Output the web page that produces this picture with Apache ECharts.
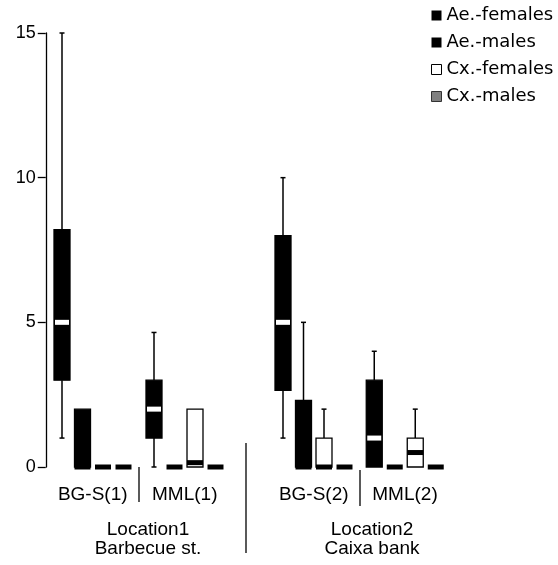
<!DOCTYPE html>
<html>
<head>
<meta charset="utf-8">
<script src="https://cdn.jsdelivr.net/npm/echarts@6/dist/echarts.min.js"></script>
<style>
html,body{margin:0;padding:0;background:#fff;}
#chart{width:558px;height:565px;}
</style>
</head>
<body>
<div id="chart"></div>
<script>
// ---- data (box statistics: [min, Q1, median, Q3, max]) ----
const groups = ['BG-S(1)', 'MML(1)', 'BG-S(2)', 'MML(2)'];
const seriesNames = ['Ae.-females', 'Ae.-males', 'Cx.-females', 'Cx.-males'];
const aeFemales = [[1, 3, 5, 8.2, 15], [0, 1, 2, 3, 4.65], [1, 2.65, 5, 8, 10], [0, 0, 1, 3, 4]];
const aeMales   = [[0, 0, 0, 2, 2], [0, 0, 0, 0, 0], [0, 0, 0, 2.3, 5], [0, 0, 0, 0, 0]];
const cxFemales = [[0, 0, 0, 0, 0], [0, 0, 0.15, 2, 2], [0, 0, 0, 1, 2], [0, 0, 0.5, 1, 2]];
const cxMales   = [[0, 0, 0, 0, 0], [0, 0, 0, 0, 0], [0, 0, 0, 0, 0], [0, 0, 0, 0, 0]];
const yMin = 0, yMax = 15, yInterval = 5;
const locationLabels = ['Location1\nBarbecue st.', 'Location2\nCaixa bank'];

// ---- styling ----
const seriesData = [aeFemales, aeMales, cxFemales, cxMales];
const fills = ['#000', '#000', '#fff', '#808080'];
const dark = [true, true, false, true];
const gridLefts = [51.75, 143.75, 272.75, 364];
const gridWidth = 82;

function makeRender(typeIdx) {
  return function (params, api) {
    const xi = api.value(0);
    const mn = api.value(1), q1 = api.value(2), md = api.value(3), q3 = api.value(4), mx = api.value(5);
    const band = api.size([1, 0])[0];
    const w = band * 0.78;
    const cx = api.coord([xi, 0])[0];
    const Y = v => api.coord([xi, v])[1];
    const children = [];
    const lineStyle = { stroke: '#000', lineWidth: 1.5 };
    if (mx > q3) {
      children.push({ type: 'line', shape: { x1: cx, y1: Y(q3), x2: cx, y2: Y(mx) }, style: lineStyle });
      children.push({ type: 'line', shape: { x1: cx - 2.5, y1: Y(mx), x2: cx + 2.5, y2: Y(mx) }, style: lineStyle });
    }
    if (mn < q1) {
      children.push({ type: 'line', shape: { x1: cx, y1: Y(q1), x2: cx, y2: Y(mn) }, style: lineStyle });
      children.push({ type: 'line', shape: { x1: cx - 2.5, y1: Y(mn), x2: cx + 2.5, y2: Y(mn) }, style: lineStyle });
    }
    if (q3 > q1) {
      children.push({
        type: 'rect',
        shape: { x: cx - w / 2, y: Y(q3), width: w, height: Y(q1) - Y(q3) },
        style: { fill: fills[typeIdx], stroke: '#000', lineWidth: 1.3 }
      });
    }
    const inside = md > q1 && md < q3;
    const medColor = (dark[typeIdx] && inside) ? '#fff' : '#000';
    const mw = (dark[typeIdx] && inside) ? w - 2 : w;
    children.push({
      type: 'rect',
      shape: { x: cx - mw / 2, y: Y(md) - 2.5, width: mw, height: 5 },
      style: { fill: medColor }
    });
    return { type: 'group', children: children };
  };
}

const grids = [], xAxes = [], yAxes = [], series = [];
groups.forEach((g, gi) => {
  grids.push({ left: gridLefts[gi], width: gridWidth, top: 33, bottom: 98 });
  xAxes.push({
    type: 'category', gridIndex: gi, data: seriesNames,
    axisLine: { show: false }, axisTick: { show: false }, axisLabel: { show: false }, splitLine: { show: false },
    name: g, nameLocation: 'middle', nameGap: 18,
    nameTextStyle: { fontFamily: 'Liberation Sans', fontSize: 19, color: '#000', verticalAlign: 'top' }
  });
  yAxes.push({
    type: 'value', gridIndex: gi, min: yMin, max: yMax, interval: yInterval,
    show: gi === 0, offset: 6,
    axisLine: { show: true, lineStyle: { color: '#000', width: 1.3 } },
    axisTick: { show: true, length: 8, lineStyle: { color: '#000', width: 1.3 } },
    axisLabel: { fontFamily: 'Liberation Sans', fontSize: 18, color: '#000', margin: 10 },
    splitLine: { show: false }
  });
  seriesNames.forEach((sn, si) => {
    series.push({
      type: 'custom', name: sn, xAxisIndex: gi, yAxisIndex: gi,
      renderItem: makeRender(si),
      itemStyle: { color: fills[si], borderColor: '#000' },
      encode: { x: 0, y: [1, 2, 3, 4, 5] },
      data: [[sn].concat(seriesData[si][gi])],
      clip: false
    });
  });
});

const chart = echarts.init(document.getElementById('chart'), null, { renderer: 'canvas' });
chart.setOption({
  backgroundColor: '#fff',
  animation: false,
  grid: grids, xAxis: xAxes, yAxis: yAxes, series: series,
  legend: {
    orient: 'vertical', left: 426, top: 1.5,
    itemWidth: 10, itemHeight: 10, itemGap: 9, icon: 'rect',
    textStyle: { fontFamily: 'DejaVu Sans', fontSize: 18, color: '#000', lineHeight: 18 },
    data: seriesNames.map((n, i) => ({
      name: n,
      itemStyle: { color: fills[i], borderColor: i === 3 ? '#333' : '#000', borderWidth: i === 2 || i === 3 ? 1 : 0 }
    }))
  },
  graphic: [
    { type: 'line', shape: { x1: 139, y1: 467, x2: 139, y2: 502 }, style: { stroke: '#000', lineWidth: 1.3 } },
    { type: 'line', shape: { x1: 360, y1: 470, x2: 360, y2: 506 }, style: { stroke: '#000', lineWidth: 1.3 } },
    { type: 'line', shape: { x1: 246, y1: 443, x2: 246, y2: 553 }, style: { stroke: '#000', lineWidth: 1.3 } },
    { type: 'text', x: 148, y: 539.5, style: { text: locationLabels[0], align: 'center', verticalAlign: 'middle', lineHeight: 19, font: '19px "Liberation Sans"', fill: '#000' } },
    { type: 'text', x: 372, y: 539.5, style: { text: locationLabels[1], align: 'center', verticalAlign: 'middle', lineHeight: 19, font: '19px "Liberation Sans"', fill: '#000' } }
  ]
});
</script>
</body>
</html>
